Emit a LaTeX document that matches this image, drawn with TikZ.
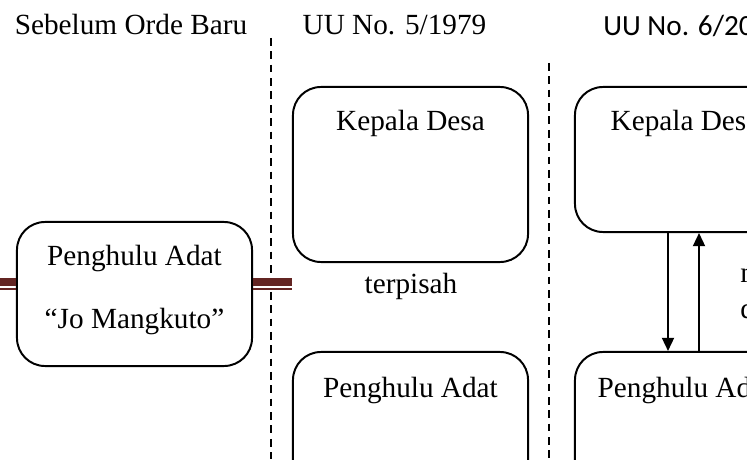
\documentclass[tikz,border=0pt]{standalone}
\usepackage{fontspec}
\setmainfont{Liberation Serif}
\newfontfamily\calibri{Carlito}
\usetikzlibrary{arrows.meta}

\definecolor{maroon}{HTML}{632523}

\begin{document}
\begin{tikzpicture}[x=0.025cm,y=-0.025cm,
  box/.style={draw, line width=1.4pt, rounded corners=0.7cm, inner sep=0pt},
  txt/.style={anchor=base, inner sep=0pt, font=\fontsize{20.8}{25}\selectfont},
  sep/.style={line width=1.1pt, dash pattern=on 5.5pt off 4pt},
  arr/.style={line width=1.4pt, -{Triangle[length=0.33cm, width=0.3cm]}}]
\useasboundingbox (0,0) rectangle (747,459);
\clip (0,0) rectangle (747,459);

% headers
\node (H-1) at (131,35) [txt]{Sebelum Orde Baru};
\node (H-2) at (394.5,35) [txt]{UU No. 5/1979};
\node (H-3) at (603,36) [txt, anchor=base west, font=\fontsize{20.8}{25}\calibri]{UU No. 6/2014};

\draw [sep] (271,38) -- (271,459);
\draw [sep] (549,63) -- (549,459);

% sebelum orde baru
\node (A) at (134.5,294) [box, minimum width=5.875cm, minimum height=3.6cm]{};
\node (A-1) at (134.5,265) [txt]{Penghulu Adat};
\node (A-2) at (134.5,328) [txt]{``Jo Mangkuto''};

\coordinate (L) at (0,294);
\coordinate (R) at (292,294);
\draw [maroon, line width=5.7pt] ([yshift=0.3cm]L) -- ([yshift=0.3cm]A.west);
\draw [maroon, line width=1.4pt] ([yshift=0.125cm]L) -- ([yshift=0.125cm]A.west);
\draw [maroon, line width=5.7pt] ([yshift=0.3cm]A.east) -- ([yshift=0.3cm]R);
\draw [maroon, line width=1.4pt] ([yshift=0.125cm]A.east) -- ([yshift=0.125cm]R);

% uu 5/1979
\node (B-1) at (410.5,174.5) [box, minimum width=5.875cm, minimum height=4.375cm]{};
\node at (410.5,131) [txt]{Kepala Desa};
\node (B-2) at (410.5,439.5) [box, minimum width=5.875cm, minimum height=4.375cm]{};
\node at (410.5,397) [txt]{Penghulu Adat};
\node (B-3) at (411,293) [txt]{terpisah};

% uu 6/2014
\node (C-1) at (685,159.5) [box, minimum width=5.5cm, minimum height=3.625cm]{};
\node at (685,131) [txt]{Kepala Desa};
\node (C-2) at (685,439.5) [box, minimum width=5.5cm, minimum height=4.375cm]{};
\node at (685,397) [txt]{Penghulu Adat};

\draw [arr] ([xshift=-0.425cm]C-1.south) -- ([xshift=-0.425cm]C-2.north);
\draw [arr] ([xshift=0.35cm]C-2.north) -- ([xshift=0.35cm]C-1.south);

\node (C-3) at (740,282) [txt, anchor=base west]{mitra};
\node (C-4) at (740,318) [txt, anchor=base west]{dalam};

\end{tikzpicture}
\end{document}
